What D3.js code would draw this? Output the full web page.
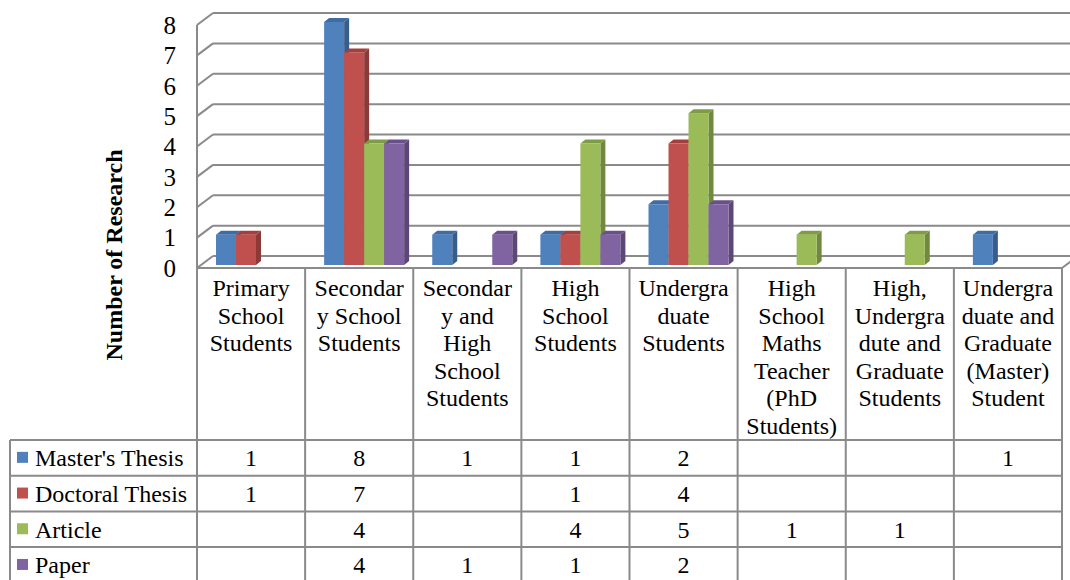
<!DOCTYPE html>
<html>
<head>
<meta charset="utf-8">
<script src="https://cdn.jsdelivr.net/npm/d3@7"></script>
<style>
  body { margin: 0; background: #fff; }
</style>
</head>
<body>
<svg id="chart" width="1070" height="580"></svg>
<script>
const categories = [
  "Primary School Students",
  "Secondary School Students",
  "Secondary and High School Students",
  "High School Students",
  "Undergraduate Students",
  "High School Maths Teacher (PhD Students)",
  "High, Undergradute and Graduate Students",
  "Undergraduate and Graduate (Master) Student"
];
// wrapped the way the original table cells wrap
const categoryLines = [
  ["Primary", "School", "Students"],
  ["Secondar", "y School", "Students"],
  ["Secondar", "y and", "High", "School", "Students"],
  ["High", "School", "Students"],
  ["Undergra", "duate", "Students"],
  ["High", "School", "Maths", "Teacher", "(PhD", "Students)"],
  ["High,", "Undergra", "dute and", "Graduate", "Students"],
  ["Undergra", "duate and", "Graduate", "(Master)", "Student"]
];
const seriesNames = ["Master's Thesis", "Doctoral Thesis", "Article", "Paper"];
const mastersThesis = [1, 8, 1, 1, 2, null, null, 1];
const doctoralThesis = [1, 7, null, 1, 4, null, null, null];
const article = [null, 4, null, 4, 5, 1, 1, null];
const paper = [null, 4, 1, 1, 2, null, null, null];
const yTicks = [0, 1, 2, 3, 4, 5, 6, 7, 8];

const values = [mastersThesis, doctoralThesis, article, paper];
const frontColor = ["#4F81BD", "#C0504D", "#9BBB59", "#8064A2"];
const sideColor = ["#385D8A", "#8C3A38", "#71893F", "#5C4776"];
const topColor = ["#3F6CA3", "#A3403D", "#7E9B45", "#68518A"];

const font = "'Liberation Serif', 'Times New Roman', 'DejaVu Serif', serif";
const svg = d3.select('#chart')
  .attr('font-family', font);
const grid = '#8a8a8a';

const left = 197, right = 1062;
const depth = { x: 16, y: -12 };   // wall depth
const barDepth = { x: 5, y: -4 };

const x = d3.scaleBand()
  .domain(categories)
  .range([left, right]);

const xs = d3.scaleBand()
  .domain(seriesNames)
  .range([19, 99]);

const y = d3.scaleLinear()
  .domain([0, 8])
  .range([268, 25]);

// walls: gridlines on back wall + diagonals on side wall
const g = svg.append('g');
yTicks.forEach(t => {
  g.append('line')
    .attr('x1', left + depth.x).attr('x2', 1070)
    .attr('y1', y(t) + depth.y).attr('y2', y(t) + depth.y)
    .attr('stroke', grid).attr('stroke-width', 2);
  g.append('line')
    .attr('x1', left).attr('x2', left + depth.x)
    .attr('y1', y(t)).attr('y2', y(t) + depth.y)
    .attr('stroke', grid).attr('stroke-width', 2);
});
g.append('line')
  .attr('x1', right).attr('x2', right + depth.x)
  .attr('y1', y(0)).attr('y2', y(0) + depth.y)
  .attr('stroke', grid).attr('stroke-width', 2);
g.append('line')
  .attr('x1', left).attr('x2', left)
  .attr('y1', y(8)).attr('y2', 580)
  .attr('stroke', grid).attr('stroke-width', 2);

// tick labels
svg.append('g').selectAll('text')
  .data(yTicks)
  .enter().append('text')
    .attr('x', 176)
    .attr('y', d => y(d))
    .attr('dy', '0.35em')
    .attr('text-anchor', 'end')
    .attr('font-family', font)
    .attr('font-size', 25)
    .text(d => d);

// axis title
svg.append('text')
  .attr('transform', 'translate(122,255) rotate(-90)')
  .attr('text-anchor', 'middle')
  .attr('font-family', font)
  .attr('font-size', 24)
  .attr('font-weight', 'bold')
  .text('Number of Research');

// 3D bars
const bars = svg.append('g');
const base = y(0) - 3;
categories.forEach((c, ci) => {
  seriesNames.forEach((s, si) => {
    const v = values[si][ci];
    if (v == null) return;
    const x0 = x(c) + xs(s);
    const w = xs.bandwidth();
    const y1 = base - (y(0) - y(v));
    const dx = barDepth.x, dy = barDepth.y;
    bars.append('path')
      .attr('d', `M${x0 + w},${base}L${x0 + w + dx},${base + dy}L${x0 + w + dx},${y1 + dy}L${x0 + w},${y1}Z`)
      .attr('fill', sideColor[si]);
    bars.append('path')
      .attr('d', `M${x0},${y1}L${x0 + dx},${y1 + dy}L${x0 + w + dx},${y1 + dy}L${x0 + w},${y1}Z`)
      .attr('fill', topColor[si]);
    bars.append('rect')
      .attr('x', x0).attr('y', y1)
      .attr('width', w).attr('height', base - y1)
      .attr('fill', frontColor[si]);
  });
});

// data table
const tableTop = y(0);
const rowTop = 440;
const rowH = 35.7;
const t = svg.append('g');
const hl = (x1, x2, yy) => t.append('line')
  .attr('x1', x1).attr('x2', x2).attr('y1', yy).attr('y2', yy)
  .attr('stroke', grid).attr('stroke-width', 2);
const vl = (xx, y1, y2) => t.append('line')
  .attr('x1', xx).attr('x2', xx).attr('y1', y1).attr('y2', y2)
  .attr('stroke', grid).attr('stroke-width', 2);

hl(left, right, tableTop);
for (let i = 0; i <= seriesNames.length; i++) hl(10, right, rowTop + i * rowH);
vl(10, rowTop, 580);
categories.forEach(c => vl(x(c) + x.bandwidth(), tableTop, 580));

// category labels
categories.forEach((c, ci) => {
  const txt = t.append('text')
    .attr('x', x(c) + x.bandwidth() / 2)
    .attr('y', 296)
    .attr('text-anchor', 'middle')
    .attr('font-family', font)
    .attr('font-size', 24);
  categoryLines[ci].forEach((ln, li) => {
    txt.append('tspan')
      .attr('x', x(c) + x.bandwidth() / 2)
      .attr('dy', li === 0 ? 0 : 27.6)
      .text(ln);
  });
});

// series rows
seriesNames.forEach((s, si) => {
  const cy = rowTop + si * rowH + rowH / 2;
  t.append('rect')
    .attr('x', 17).attr('y', cy - 6)
    .attr('width', 11).attr('height', 11)
    .attr('fill', frontColor[si]);
  t.append('text')
    .attr('x', 35).attr('y', cy)
    .attr('dy', '0.35em')
    .attr('font-family', font)
    .attr('font-size', 24)
    .text(s);
  categories.forEach((c, ci) => {
    const v = values[si][ci];
    if (v == null) return;
    t.append('text')
      .attr('x', x(c) + x.bandwidth() / 2)
      .attr('y', cy)
      .attr('dy', '0.35em')
      .attr('text-anchor', 'middle')
      .attr('font-family', font)
      .attr('font-size', 24)
      .text(v);
  });
});
</script>
</body>
</html>
